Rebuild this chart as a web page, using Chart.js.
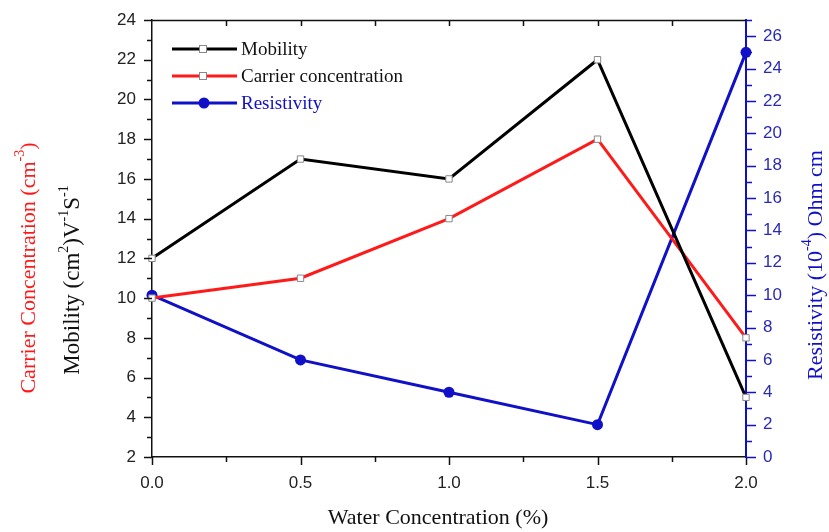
<!DOCTYPE html>
<html>
<head>
<meta charset="utf-8">
<script src="https://cdn.jsdelivr.net/npm/chart.js@4.4.1/dist/chart.umd.min.js"></script>
<style>
  html, body { margin: 0; padding: 0; background: #fff; }
  #wrap { width: 829px; height: 532px; }
</style>
</head>
<body>
<div id="wrap"><canvas id="chart" width="829" height="532"></canvas></div>
<script>
// values
const waterConc = [0.0, 0.5, 1.0, 1.5, 2.0];
const mobility = [12, 17, 16, 22, 5];
const carrierConc = [10, 11, 14, 18, 8];
const resistivity = [10, 6, 4, 2, 25];

const seriesLabels = ['Mobility', 'Carrier concentration', 'Resistivity'];

const BLUE = '#1010c8';
const RED = '#ff1a1a';
const SERIF = '"Liberation Serif", "Times New Roman", serif';
const SANS = '"Liberation Sans", Arial, sans-serif';

function pts(ys) {
  return waterConc.map((x, i) => ({ x: x, y: ys[i] }));
}

// rich text with superscripts, centred at (cx, cy), optionally rotated
function drawRich(ctx, parts, cx, cy, size, color, rotate) {
  ctx.save();
  ctx.translate(cx, cy);
  if (rotate) ctx.rotate(-Math.PI / 2);
  ctx.fillStyle = color;
  ctx.textBaseline = 'middle';
  ctx.textAlign = 'left';
  let total = 0;
  parts.forEach((p) => {
    ctx.font = (p.sup ? Math.round(size * 0.62) : size) + 'px ' + SERIF;
    total += ctx.measureText(p.t).width;
  });
  let x = -total / 2;
  parts.forEach((p) => {
    ctx.font = (p.sup ? Math.round(size * 0.62) : size) + 'px ' + SERIF;
    ctx.fillText(p.t, x, p.sup ? -size * 0.38 : 0);
    x += ctx.measureText(p.t).width;
  });
  ctx.restore();
}

const decorPlugin = {
  id: 'decor',
  afterDraw(chart) {
    const ctx = chart.ctx;
    const xs = chart.scales.x, yl = chart.scales.y, yr = chart.scales.y1;
    const a = chart.chartArea;
    ctx.save();
    ctx.lineWidth = 1.5;

    // bottom + top ticks
    ctx.strokeStyle = '#111';
    for (let v = 0; v <= 2.0001; v += 0.25) {
      const px = Math.round(xs.getPixelForValue(v)) + 0.5;
      const major = Math.abs(v * 2 - Math.round(v * 2)) < 1e-6;
      ctx.beginPath();
      ctx.moveTo(px, a.bottom);
      ctx.lineTo(px, a.bottom + (major ? 8 : 5));
      if (v > 0 && v < 2) {
        ctx.moveTo(px, a.top);
        ctx.lineTo(px, a.top + 6);
      }
      ctx.stroke();
    }
    // top border
    ctx.beginPath();
    ctx.moveTo(a.left, a.top + 0.5);
    ctx.lineTo(a.right, a.top + 0.5);
    ctx.stroke();

    // left ticks
    for (let v = 2; v <= 24; v += 1) {
      const py = Math.round(yl.getPixelForValue(v)) + 0.5;
      ctx.beginPath();
      ctx.moveTo(a.left, py);
      ctx.lineTo(a.left - (v % 2 === 0 ? 8 : 5), py);
      ctx.stroke();
    }
    // right ticks
    ctx.strokeStyle = BLUE;
    for (let v = 0; v <= 27; v += 1) {
      const py = Math.round(yr.getPixelForValue(v)) + 0.5;
      ctx.beginPath();
      ctx.moveTo(a.right, py);
      ctx.lineTo(a.right + (v % 2 === 0 ? 10 : 6), py);
      ctx.stroke();
    }

    // legend
    const legendRows = [
      { ds: chart.data.datasets[0], y: 49, text: '#111' },
      { ds: chart.data.datasets[1], y: 76, text: '#111' },
      { ds: chart.data.datasets[2], y: 103, text: BLUE }
    ];
    legendRows.forEach((r) => {
      ctx.strokeStyle = r.ds.borderColor;
      ctx.lineWidth = 3;
      ctx.beginPath();
      ctx.moveTo(172, r.y);
      ctx.lineTo(237, r.y);
      ctx.stroke();
      ctx.lineWidth = 1;
      if (r.ds.pointStyle === 'rect') {
        ctx.fillStyle = '#fff';
        ctx.strokeStyle = '#888';
        ctx.fillRect(199, r.y - 4, 8, 8);
        ctx.strokeRect(199.5, r.y - 3.5, 7, 7);
      } else {
        ctx.fillStyle = r.ds.pointBackgroundColor;
        ctx.beginPath();
        ctx.arc(204, r.y, 5.5, 0, Math.PI * 2);
        ctx.fill();
      }
      ctx.fillStyle = r.text;
      ctx.font = '19px ' + SERIF;
      ctx.textBaseline = 'middle';
      ctx.textAlign = 'left';
      ctx.fillText(r.ds.label, 241, r.y + 1);
    });
    ctx.restore();

    // axis titles
    drawRich(ctx, [{ t: 'Carrier Concentration (cm' }, { t: '-3', sup: true }, { t: ')' }], 29, 268, 22, RED, true);
    drawRich(ctx, [{ t: 'Mobility (cm' }, { t: '2', sup: true }, { t: ')V' }, { t: '-1', sup: true }, { t: 'S' }, { t: '-1', sup: true }], 73, 280, 23, '#111', true);
    drawRich(ctx, [{ t: 'Resistivity (10' }, { t: '-4', sup: true }, { t: ') Ohm cm' }], 816, 265, 22, BLUE, true);
    drawRich(ctx, [{ t: 'Water Concentration (%)' }], 438, 518, 22, '#111', false);
  }
};

new Chart(document.getElementById('chart'), {
  type: 'line',
  data: {
    datasets: [
      {
        label: seriesLabels[0],
        data: pts(mobility),
        yAxisID: 'y',
        borderColor: '#000',
        borderWidth: 3,
        pointStyle: 'rect',
        pointRadius: 4.5,
        pointBackgroundColor: '#fff',
        pointBorderColor: '#888',
        pointBorderWidth: 1,
        clip: false
      },
      {
        label: seriesLabels[1],
        data: pts(carrierConc),
        yAxisID: 'y',
        borderColor: RED,
        borderWidth: 3,
        pointStyle: 'rect',
        pointRadius: 4.5,
        pointBackgroundColor: '#fff',
        pointBorderColor: '#888',
        pointBorderWidth: 1,
        clip: false
      },
      {
        label: seriesLabels[2],
        data: pts(resistivity),
        yAxisID: 'y1',
        borderColor: BLUE,
        borderWidth: 3,
        pointStyle: 'circle',
        pointRadius: 5.5,
        pointBackgroundColor: BLUE,
        pointBorderColor: BLUE,
        pointBorderWidth: 0,
        clip: false
      }
    ]
  },
  options: {
    responsive: false,
    animation: false,
    layout: { padding: { top: 20, left: 0, right: 0, bottom: 0 } },
    plugins: {
      legend: { display: false },
      tooltip: { enabled: false }
    },
    scales: {
      x: {
        type: 'linear',
        min: 0,
        max: 2,
        grid: { display: false, drawTicks: false },
        border: { display: true, color: '#111', width: 1.5 },
        ticks: {
          stepSize: 0.5,
          padding: 16,
          color: '#222',
          font: { family: SANS, size: 17 },
          callback: (v) => Number(v).toFixed(1)
        },
        afterFit: (s) => { s.height = 75; s.paddingLeft = 0; s.paddingRight = 0; }
      },
      y: {
        position: 'left',
        min: 2,
        max: 24,
        grid: { display: false, drawTicks: false },
        border: { display: true, color: '#111', width: 1.5 },
        ticks: {
          stepSize: 2,
          padding: 16,
          color: '#222',
          font: { family: SANS, size: 17 }
        },
        afterFit: (s) => { s.width = 152; s.paddingTop = 0; s.paddingBottom = 0; }
      },
      y1: {
        position: 'right',
        min: 0,
        max: 27,
        grid: { display: false, drawTicks: false },
        border: { display: true, color: BLUE, width: 2 },
        ticks: {
          stepSize: 1,
          autoSkip: false,
          padding: 17,
          color: '#2a2ab4',
          font: { family: SANS, size: 17 },
          callback: (v) => (v % 2 === 0 ? v : '')
        },
        afterFit: (s) => { s.width = 83; s.paddingTop = 0; s.paddingBottom = 0; }
      }
    }
  },
  plugins: [decorPlugin]
});
</script>
</body>
</html>
